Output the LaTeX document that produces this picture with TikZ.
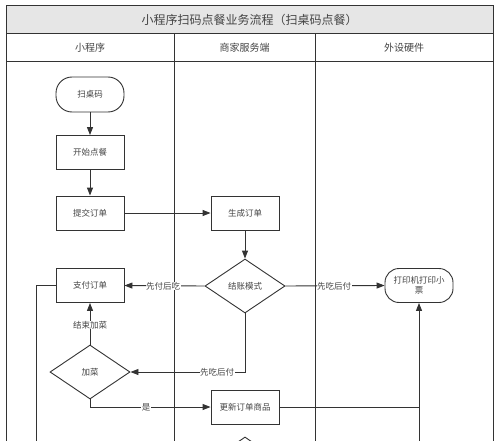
\documentclass[tikz,border=0pt]{standalone}
\usepackage{fontspec}
\setmainfont{Noto Sans CJK SC}
\usetikzlibrary{shapes.geometric,arrows.meta}
\definecolor{ln}{HTML}{333333}
\definecolor{tx}{HTML}{444444}
\definecolor{hd}{HTML}{E6E6E6}
\begin{document}
\begin{tikzpicture}[x=1pt,y=-1pt,
  every node/.style={text=tx},
  procbox/.style={draw=ln,line width=0.9pt,minimum width=68pt,minimum height=34pt,inner sep=1pt,font=\fontsize{8.5}{10}\selectfont},
  termbox/.style={procbox,rounded corners=14pt},
  decbox/.style={draw=ln,line width=0.9pt,diamond,minimum width=80pt,minimum height=54pt,inner sep=0pt,font=\fontsize{8.5}{10}\selectfont},
  conn/.style={draw=ln,line width=0.9pt},
  arr/.style={conn,-{Triangle[length=8pt,width=6pt]}},
  lbl/.style={fill=white,inner sep=0.5pt,font=\fontsize{8.5}{10}\selectfont},
  lane/.style={draw=ln,line width=1pt}]
\useasboundingbox (0,0) rectangle (500,441);
\fill[white] (0,0) rectangle (500,441);
% frame
\fill[hd] (6,6) rectangle (493,34);
\draw[lane] (6,460) -- (6,6) -- (493,6) -- (493,460);
\draw[lane] (6,34) -- (493,34);
\draw[lane] (6,62) -- (493,62);
\draw[lane] (174,34) -- (174,460);
\draw[lane] (315,34) -- (315,460);
\node[font=\fontsize{12}{14}\selectfont] (title) at (249.5,20) {小程序扫码点餐业务流程（扫桌码点餐）};
\node[font=\fontsize{10}{12}\selectfont] (h1) at (90,48) {小程序};
\node[font=\fontsize{10}{12}\selectfont] (h2) at (244.5,48) {商家服务端};
\node[font=\fontsize{10}{12}\selectfont] (h3) at (404,48) {外设硬件};
% nodes
\node[termbox,rounded corners=16pt,minimum height=35pt] (scan) at (90,94.5) {扫桌码};
\node[procbox] (start) at (90,152.5) {开始点餐};
\node[procbox] (submit) at (90,213) {提交订单};
\node[procbox] (gen) at (245,213) {生成订单};
\node[decbox] (mode) at (245,286) {结账模式};
\node[procbox] (pay) at (90,285.5) {支付订单};
\node[termbox,align=center,text width=62pt] (printer) at (419,285.5) {打印机打印小\\票};
\node[decbox] (add) at (90,372) {加菜};
\node[procbox] (update) at (245,407) {更新订单商品};
\node[decbox] (next) at (245,464) {};
\coordinate (leftend) at (36,460);
\coordinate (rightend) at (419,460);
% connectors
\draw[arr] (scan) -- (start);
\draw[arr] (start) -- (submit);
\draw[arr] (submit) -- (gen);
\draw[arr] (gen) -- (mode);
\draw[arr] (mode.west) -- (pay.east);
\node[lbl] (l1) at (163,286) {先付后吃};
\draw[arr] (mode.east) -- (printer.west);
\node[lbl] (l2) at (334,286) {先吃后付};
\draw[arr] (mode.south) |- (add.east);
\node[lbl] (l3) at (217,372) {先吃后付};
\draw[arr] (add.north) -- (pay.south);
\node[lbl] (l4) at (90,325) {结束加菜};
\draw[arr] (add.south) |- (update.west);
\node[lbl] (l5) at (146,407) {是};
\draw[arr] (update.east) -| (printer.south);
\draw[conn] (rightend) -- (419,407);
\draw[conn] (pay.west) -| (leftend);
\end{tikzpicture}
\end{document}
